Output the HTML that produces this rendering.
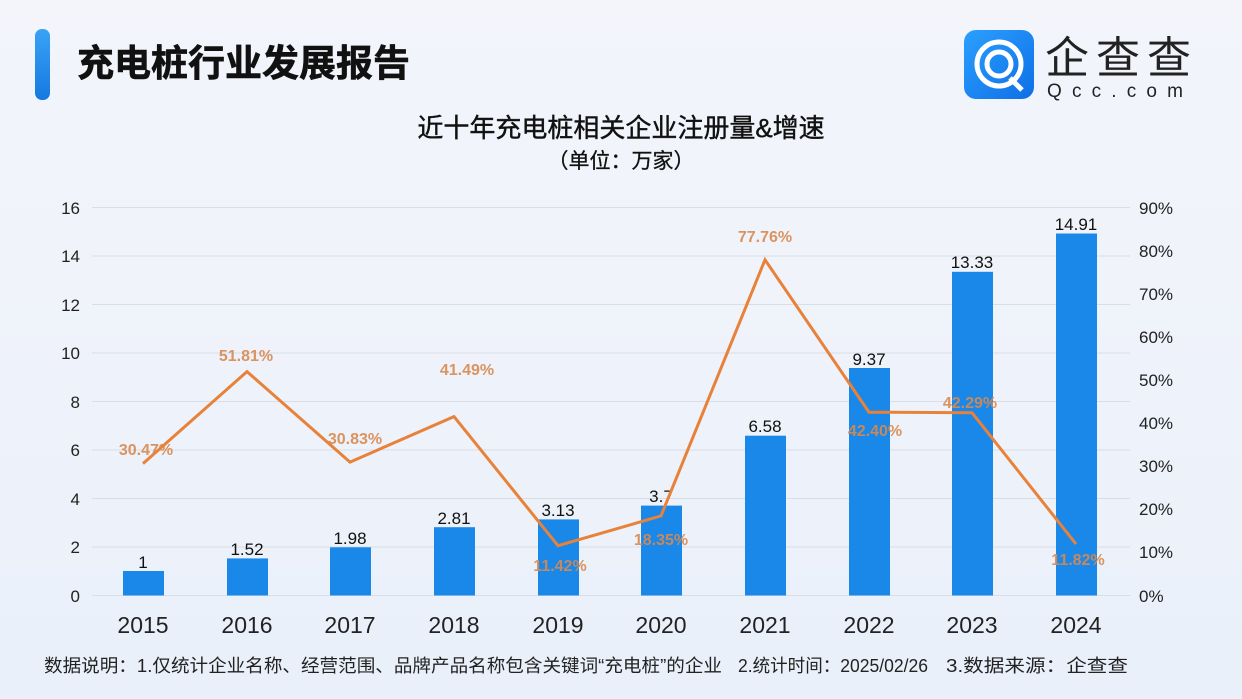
<!DOCTYPE html>
<html><head><meta charset="utf-8"><style>
html,body{margin:0;padding:0}
body{width:1242px;height:699px;overflow:hidden;background:linear-gradient(180deg,#f3f5fb 0%,#eef2fa 60%,#e9f0fa 100%);font-family:"Liberation Sans","Noto Sans CJK SC",sans-serif}
svg{display:block}
svg text{font-family:"Liberation Sans","Noto Sans CJK SC",sans-serif}
</style></head><body>
<svg width="1242" height="699" viewBox="0 0 1242 699" xmlns="http://www.w3.org/2000/svg">
<defs>
<linearGradient id="bar" x1="0" y1="0" x2="0" y2="1"><stop offset="0" stop-color="#3aa3f5"/><stop offset="1" stop-color="#1479e0"/></linearGradient>
<linearGradient id="logo" x1="0" y1="0" x2="1" y2="1"><stop offset="0" stop-color="#2aa0ff"/><stop offset="1" stop-color="#0f6fe6"/></linearGradient>
</defs>
<rect x="35" y="29" width="15" height="71" rx="7" fill="url(#bar)"/>
<text x="77" y="76" font-size="37" font-weight="bold" fill="#111" stroke="#111" stroke-width="0.6">充电桩行业发展报告</text>
<rect x="964" y="30" width="70" height="69" rx="12" fill="url(#logo)"/>
<circle cx="999" cy="64" r="22" fill="none" stroke="#fff" stroke-width="5"/>
<circle cx="999" cy="64" r="12" fill="none" stroke="#fff" stroke-width="5"/>
<line x1="1010" y1="78" x2="1022" y2="90" stroke="#fff" stroke-width="5"/>
<text x="1045" y="73" font-size="44" fill="#222" textLength="146">企查查</text>
<text x="1047" y="97" font-size="19" fill="#222" textLength="142" letter-spacing="6">Qcc.com</text>
<text x="621" y="137" font-size="26" text-anchor="middle" fill="#111" stroke="#111" stroke-width="0.4">近十年充电桩相关企业注册量&amp;增速</text>
<text x="621" y="168" font-size="21" text-anchor="middle" fill="#111" stroke="#111" stroke-width="0.3">（单位：万家）</text>
<g stroke="#d8dde6" stroke-width="1">
<line x1="92" x2="1130" y1="207.5" y2="207.5"/><line x1="92" x2="1130" y1="256" y2="256"/>
<line x1="92" x2="1130" y1="304.5" y2="304.5"/><line x1="92" x2="1130" y1="353" y2="353"/>
<line x1="92" x2="1130" y1="401.5" y2="401.5"/><line x1="92" x2="1130" y1="450" y2="450"/>
<line x1="92" x2="1130" y1="498.5" y2="498.5"/><line x1="92" x2="1130" y1="547" y2="547"/>
<line x1="92" x2="1130" y1="595.5" y2="595.5"/>
</g>
<g font-size="17" fill="#222" text-anchor="end">
<text x="80" y="214">16</text><text x="80" y="262">14</text><text x="80" y="311">12</text><text x="80" y="359">10</text><text x="80" y="408">8</text><text x="80" y="456">6</text><text x="80" y="505">4</text><text x="80" y="553">2</text><text x="80" y="602">0</text>
</g>
<g font-size="17" fill="#222">
<text x="1139" y="214">90%</text><text x="1139" y="257">80%</text><text x="1139" y="300">70%</text><text x="1139" y="343">60%</text><text x="1139" y="386">50%</text><text x="1139" y="429">40%</text><text x="1139" y="472">30%</text><text x="1139" y="515">20%</text><text x="1139" y="558">10%</text><text x="1139" y="602">0%</text>
</g>
<g fill="#1a88e8">
<rect x="123" y="571" width="41" height="24.5"/>
<rect x="227" y="558.4" width="41" height="37.1"/>
<rect x="330" y="547.3" width="41" height="48.2"/>
<rect x="434" y="527.2" width="41" height="68.3"/>
<rect x="538" y="519.4" width="41" height="76.1"/>
<rect x="641" y="505.6" width="41" height="89.9"/>
<rect x="745" y="435.7" width="41" height="159.8"/>
<rect x="849" y="368" width="41" height="227.5"/>
<rect x="952" y="271.8" width="41" height="323.7"/>
<rect x="1056" y="233.5" width="41" height="362"/>
</g>
<g font-size="17" fill="#111" text-anchor="middle">
<text x="143" y="568">1</text><text x="247" y="555">1.52</text><text x="350" y="544">1.98</text><text x="454" y="524">2.81</text><text x="558" y="516">3.13</text><text x="661" y="502">3.7</text><text x="765" y="432">6.58</text><text x="869" y="365">9.37</text><text x="972" y="268">13.33</text><text x="1076" y="230">14.91</text>
</g>
<polyline fill="none" stroke="#e8823a" stroke-width="3" stroke-linejoin="miter" points="143,463.6 247,371.6 350,462.1 454,416.6 558,545.7 661,515.9 765,259.8 869,412.2 972,412.7 1076,544"/>
<g font-size="16" font-weight="bold" fill="#d9894f" text-anchor="middle" opacity="0.9">
<text x="146" y="455">30.47%</text><text x="246" y="361">51.81%</text><text x="355" y="444">30.83%</text><text x="467" y="375">41.49%</text><text x="560" y="571">11.42%</text><text x="661" y="545">18.35%</text><text x="765" y="242">77.76%</text><text x="875" y="436">42.40%</text><text x="970" y="408">42.29%</text><text x="1078" y="565">11.82%</text>
</g>
<g font-size="23" fill="#222" text-anchor="middle">
<text x="143" y="633">2015</text><text x="247" y="633">2016</text><text x="350" y="633">2017</text><text x="454" y="633">2018</text><text x="558" y="633">2019</text><text x="661" y="633">2020</text><text x="765" y="633">2021</text><text x="869" y="633">2022</text><text x="972" y="633">2023</text><text x="1076" y="633">2024</text>
</g>
<g font-size="18" fill="#222">
<text x="44" y="672" textLength="678" lengthAdjust="spacingAndGlyphs">数据说明：1.仅统计企业名称、经营范围、品牌产品名称包含关键词“充电桩”的企业</text>
<text x="738" y="672" textLength="190" lengthAdjust="spacingAndGlyphs">2.统计时间：2025/02/26</text>
<text x="946" y="672" textLength="182" lengthAdjust="spacingAndGlyphs">3.数据来源：企查查</text>
</g>
</svg>
</body></html>
